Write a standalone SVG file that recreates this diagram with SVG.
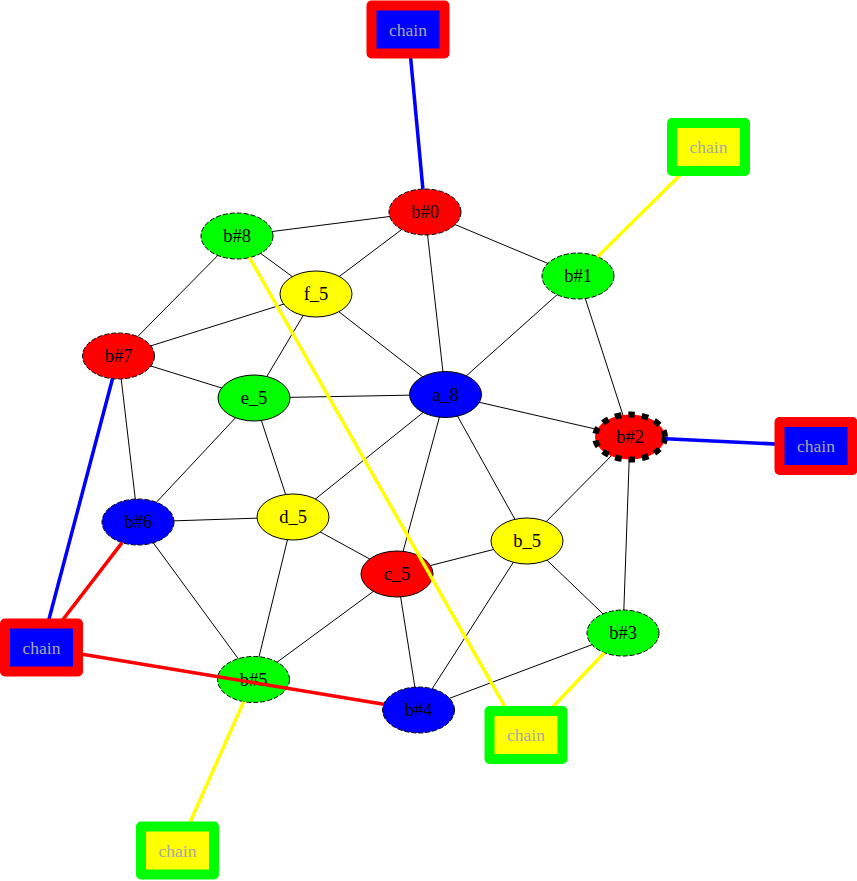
<svg xmlns="http://www.w3.org/2000/svg" width="857" height="881" viewBox="0 0 857 881">
<style>
.e{stroke:#000;stroke-width:1;fill:none}
.n ellipse{stroke:#000;stroke-width:1}
.d ellipse{stroke-dasharray:5,2}
.t{font-family:"Liberation Serif","Times New Roman",serif;font-size:18.5px;text-anchor:middle;fill:#000}
.ct{font-family:"Liberation Serif","Times New Roman",serif;font-size:17.5px;text-anchor:middle;fill:#a8a8a8}
.ce{fill:none;stroke-width:3.5}
.cb rect{stroke-width:10;stroke-linejoin:round}
.red{fill:#ff0000}.grn{fill:#00ff00}.blu{fill:#0000ff}.yel{fill:#ffff00}
</style>
<rect width="857" height="881" fill="#fff"/>
<g id="edges">
<line class="e" x1="425" y1="212" x2="237" y2="236"/>
<line class="e" x1="425" y1="212" x2="316" y2="294"/>
<line class="e" x1="425" y1="212" x2="578" y2="276"/>
<line class="e" x1="425" y1="212" x2="445.5" y2="394.5"/>
<line class="e" x1="237" y1="236" x2="316" y2="294"/>
<line class="e" x1="237" y1="236" x2="118.5" y2="356"/>
<line class="e" x1="578" y1="276" x2="445.5" y2="394.5"/>
<line class="e" x1="578" y1="276" x2="630" y2="437"/>
<line class="e" x1="316" y1="294" x2="118.5" y2="356"/>
<line class="e" x1="316" y1="294" x2="254" y2="398"/>
<line class="e" x1="316" y1="294" x2="445.5" y2="394.5"/>
<line class="e" x1="118.5" y1="356" x2="254" y2="398"/>
<line class="e" x1="118.5" y1="356" x2="138" y2="522"/>
<line class="e" x1="254" y1="398" x2="445.5" y2="394.5"/>
<line class="e" x1="254" y1="398" x2="138" y2="522"/>
<line class="e" x1="254" y1="398" x2="293" y2="517"/>
<line class="e" x1="445.5" y1="394.5" x2="630" y2="437"/>
<line class="e" x1="445.5" y1="394.5" x2="293" y2="517"/>
<line class="e" x1="445.5" y1="394.5" x2="397" y2="574"/>
<line class="e" x1="445.5" y1="394.5" x2="527" y2="541"/>
<line class="e" x1="630" y1="437" x2="527" y2="541"/>
<line class="e" x1="630" y1="437" x2="623" y2="633"/>
<line class="e" x1="138" y1="522" x2="293" y2="517"/>
<line class="e" x1="138" y1="522" x2="253.5" y2="679.5"/>
<line class="e" x1="293" y1="517" x2="397" y2="574"/>
<line class="e" x1="293" y1="517" x2="253.5" y2="679.5"/>
<line class="e" x1="397" y1="574" x2="527" y2="541"/>
<line class="e" x1="397" y1="574" x2="253.5" y2="679.5"/>
<line class="e" x1="397" y1="574" x2="418.5" y2="710"/>
<line class="e" x1="527" y1="541" x2="418.5" y2="710"/>
<line class="e" x1="527" y1="541" x2="623" y2="633"/>
<line class="e" x1="623" y1="633" x2="418.5" y2="710"/>
</g>
<g id="b0" class="n d"><ellipse class="red" cx="425" cy="212" rx="36" ry="23"/><text class="t" x="425" y="218">b#0</text></g>
<g id="b8" class="n d"><ellipse class="grn" cx="237" cy="236" rx="36" ry="23"/><text class="t" x="237" y="242">b#8</text></g>
<g id="b1" class="n d"><ellipse class="grn" cx="578" cy="276" rx="36" ry="23"/><text class="t" x="578" y="282">b#1</text></g>
<g id="f5" class="n"><ellipse class="yel" cx="316" cy="294" rx="36" ry="23"/><text class="t" x="316" y="300">f_5</text></g>
<g id="b7" class="n d"><ellipse class="red" cx="118.5" cy="356" rx="36" ry="23"/><text class="t" x="118.5" y="362">b#7</text></g>
<g id="e5" class="n"><ellipse class="grn" cx="254" cy="398" rx="36" ry="23"/><text class="t" x="254" y="404">e_5</text></g>
<g id="a8" class="n"><ellipse class="blu" cx="445.5" cy="394.5" rx="36" ry="23"/><text class="t" x="445.5" y="400.5">a_8</text></g>
<g id="b2"><ellipse class="red" cx="630" cy="437" rx="35" ry="22.5" stroke="#000" stroke-width="6" stroke-dasharray="6.5,7"/><text class="t" x="630" y="443">b#2</text></g>
<g id="b6" class="n d"><ellipse class="blu" cx="138" cy="522" rx="36" ry="23"/><text class="t" x="138" y="528">b#6</text></g>
<g id="d5" class="n"><ellipse class="yel" cx="293" cy="517" rx="36" ry="23"/><text class="t" x="293" y="523">d_5</text></g>
<g id="b_5" class="n"><ellipse class="yel" cx="527" cy="541" rx="36" ry="23"/><text class="t" x="527" y="547">b_5</text></g>
<g id="c5" class="n"><ellipse class="red" cx="397" cy="574" rx="36" ry="23"/><text class="t" x="397" y="580">c_5</text></g>
<g id="b3" class="n d"><ellipse class="grn" cx="623" cy="633" rx="36" ry="23"/><text class="t" x="623" y="639">b#3</text></g>
<g id="b5" class="n d"><ellipse class="grn" cx="253.5" cy="679.5" rx="36" ry="23"/><text class="t" x="253.5" y="685.5">b#5</text></g>
<g id="b4" class="n d"><ellipse class="blu" cx="418.5" cy="710" rx="36" ry="23"/><text class="t" x="418.5" y="716">b#4</text></g>
<g id="chain-edges">
<line class="ce" stroke="#0000ff" x1="408" y1="29.5" x2="422.9" y2="189"/>
<line class="ce" stroke="#ffff00" x1="708.5" y1="147" x2="597.5" y2="256.7"/>
<line class="ce" stroke="#0000ff" x1="665.9" y1="438.7" x2="816" y2="446"/>
<line class="ce" stroke="#0000ff" x1="41.5" y1="647.5" x2="112.5" y2="378.7"/>
<line class="ce" stroke="#ff0000" x1="41.5" y1="647.5" x2="122.1" y2="542.6"/>
<line class="ce" stroke="#ff0000" x1="41.5" y1="647.5" x2="383.7" y2="704.2"/>
<line class="ce" stroke="#ffff00" x1="249.5" y1="257.6" x2="521" y2="735"/>
<line class="ce" stroke="#ffff00" x1="604.3" y1="652.7" x2="526" y2="735"/>
<line class="ce" stroke="#ffff00" x1="243.7" y1="701.6" x2="177.5" y2="850.5"/>
</g>
<g id="chain1" class="cb"><rect class="blu" stroke="#ff0000" x="371.5" y="5.5" width="73" height="48"/><text class="ct" x="408" y="35.5">chain</text></g>
<g id="chain2" class="cb"><rect class="yel" stroke="#00ff00" x="672" y="123" width="73" height="48"/><text class="ct" x="708.5" y="153">chain</text></g>
<g id="chain3" class="cb"><rect class="blu" stroke="#ff0000" x="779.5" y="422" width="73" height="48"/><text class="ct" x="816" y="452">chain</text></g>
<g id="chain4" class="cb"><rect class="blu" stroke="#ff0000" x="5" y="623.5" width="73" height="48"/><text class="ct" x="41.5" y="653.5">chain</text></g>
<g id="chain5" class="cb"><rect class="yel" stroke="#00ff00" x="489.5" y="711" width="73" height="48"/><text class="ct" x="526" y="741">chain</text></g>
<g id="chain6" class="cb"><rect class="yel" stroke="#00ff00" x="141" y="826.5" width="73" height="48"/><text class="ct" x="177.5" y="856.5">chain</text></g>
</svg>
